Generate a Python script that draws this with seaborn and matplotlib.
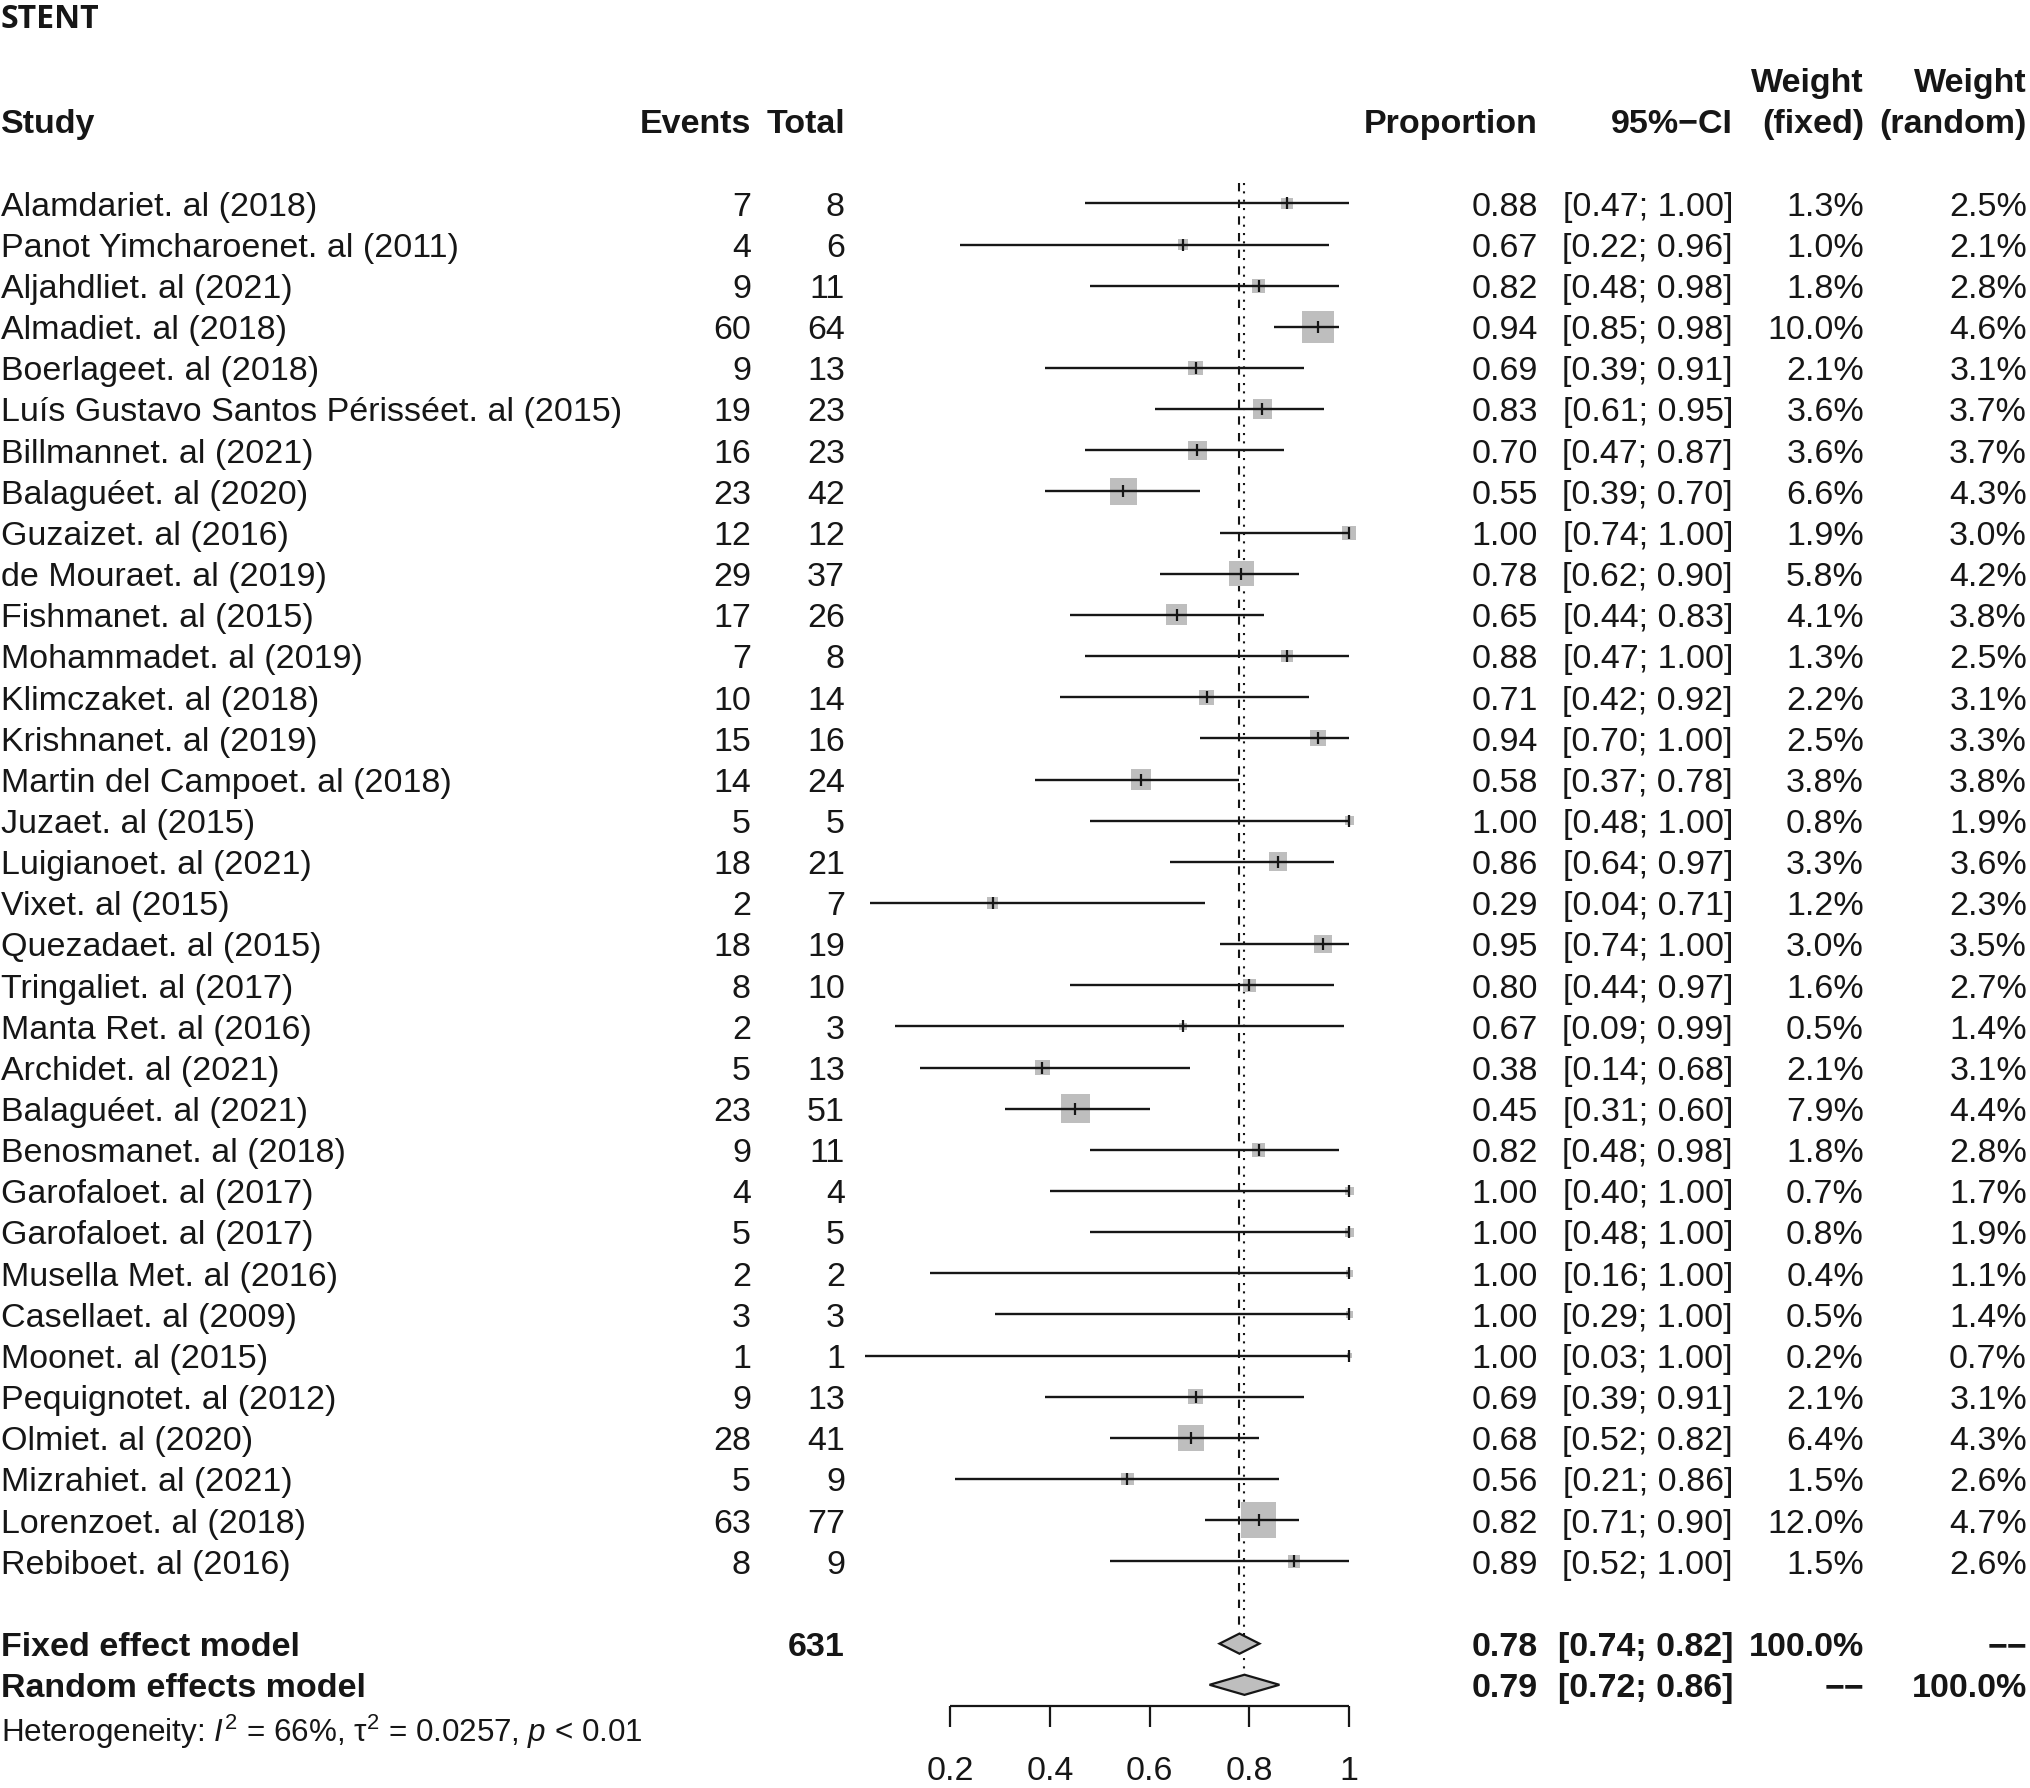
import numpy as np
import matplotlib
matplotlib.use('Agg')
import matplotlib.pyplot as plt
import seaborn as sns
from matplotlib.patches import Polygon

# data
studies = ["Alamdariet. al (2018)", "Panot Yimcharoenet. al (2011)", "Aljahdliet. al (2021)",
           "Almadiet. al (2018)", "Boerlageet. al (2018)", "Luís Gustavo Santos Périsséet. al (2015)",
           "Billmannet. al (2021)", "Balaguéet. al (2020)", "Guzaizet. al (2016)",
           "de Mouraet. al (2019)", "Fishmanet. al (2015)", "Mohammadet. al (2019)",
           "Klimczaket. al (2018)", "Krishnanet. al (2019)", "Martin del Campoet. al (2018)",
           "Juzaet. al (2015)", "Luigianoet. al (2021)", "Vixet. al (2015)",
           "Quezadaet. al (2015)", "Tringaliet. al (2017)", "Manta Ret. al (2016)",
           "Archidet. al (2021)", "Balaguéet. al (2021)", "Benosmanet. al (2018)",
           "Garofaloet. al (2017)", "Garofaloet. al (2017)", "Musella Met. al (2016)",
           "Casellaet. al (2009)", "Moonet. al (2015)", "Pequignotet. al (2012)",
           "Olmiet. al (2020)", "Mizrahiet. al (2021)", "Lorenzoet. al (2018)",
           "Rebiboet. al (2016)"]
events = [7, 4, 9, 60, 9, 19, 16, 23, 12, 29, 17, 7, 10, 15, 14, 5, 18, 2, 18, 8, 2, 5, 23, 9,
          4, 5, 2, 3, 1, 9, 28, 5, 63, 8]
totals = [8, 6, 11, 64, 13, 23, 23, 42, 12, 37, 26, 8, 14, 16, 24, 5, 21, 7, 19, 10, 3, 13, 51, 11,
          4, 5, 2, 3, 1, 13, 41, 9, 77, 9]
prop = [0.88, 0.67, 0.82, 0.94, 0.69, 0.83, 0.70, 0.55, 1.00, 0.78, 0.65, 0.88, 0.71, 0.94, 0.58,
        1.00, 0.86, 0.29, 0.95, 0.80, 0.67, 0.38, 0.45, 0.82, 1.00, 1.00, 1.00, 1.00, 1.00, 0.69,
        0.68, 0.56, 0.82, 0.89]
ci_low = [0.47, 0.22, 0.48, 0.85, 0.39, 0.61, 0.47, 0.39, 0.74, 0.62, 0.44, 0.47, 0.42, 0.70, 0.37,
          0.48, 0.64, 0.04, 0.74, 0.44, 0.09, 0.14, 0.31, 0.48, 0.40, 0.48, 0.16, 0.29, 0.03, 0.39,
          0.52, 0.21, 0.71, 0.52]
ci_high = [1.00, 0.96, 0.98, 0.98, 0.91, 0.95, 0.87, 0.70, 1.00, 0.90, 0.83, 1.00, 0.92, 1.00, 0.78,
           1.00, 0.97, 0.71, 1.00, 0.97, 0.99, 0.68, 0.60, 0.98, 1.00, 1.00, 1.00, 1.00, 1.00, 0.91,
           0.82, 0.86, 0.90, 1.00]
w_fixed = [1.3, 1.0, 1.8, 10.0, 2.1, 3.6, 3.6, 6.6, 1.9, 5.8, 4.1, 1.3, 2.2, 2.5, 3.8, 0.8, 3.3, 1.2,
           3.0, 1.6, 0.5, 2.1, 7.9, 1.8, 0.7, 0.8, 0.4, 0.5, 0.2, 2.1, 6.4, 1.5, 12.0, 1.5]
w_random = [2.5, 2.1, 2.8, 4.6, 3.1, 3.7, 3.7, 4.3, 3.0, 4.2, 3.8, 2.5, 3.1, 3.3, 3.8, 1.9, 3.6, 2.3,
            3.5, 2.7, 1.4, 3.1, 4.4, 2.8, 1.7, 1.9, 1.1, 1.4, 0.7, 3.1, 4.3, 2.6, 4.7, 2.6]

fixed_est, fixed_lo, fixed_hi = 0.78, 0.74, 0.82
random_est, random_lo, random_hi = 0.79, 0.72, 0.86
total_n = 631
x_ticks = [0.2, 0.4, 0.6, 0.8, 1.0]
x_tick_labels = ["0.2", "0.4", "0.6", "0.8", "1"]

sns.set_style("white")
plt.rcParams['font.family'] = ['Liberation Sans', 'DejaVu Sans']
plt.rcParams['mathtext.fontset'] = 'custom'
plt.rcParams['mathtext.rm'] = 'Liberation Sans'
plt.rcParams['mathtext.it'] = 'Liberation Sans:italic'
plt.rcParams['mathtext.bf'] = 'Liberation Sans:bold'

fig = plt.figure(figsize=(20.31, 17.88), dpi=100)
ax = fig.add_axes([0, 0, 1, 1])
ax.set_xlim(-1.7034, 2.3659)
ax.set_ylim(38.508, -4.943)
ax.axis('off')


def px(p):
    # pixel column -> data x
    return 0.2 + (p - 950) / 499.1


fs = 24.5
base = 0.30  # baseline offset below row centre
ink = '#161616'
rows = np.arange(len(studies))
row_fixed = len(studies) + 1
row_random = len(studies) + 2

# squares, area proportional to fixed weight
est = [e / t for e, t in zip(events, totals)]
sq = {'x': est, 'y': rows, 'w': w_fixed}
sns.scatterplot(data=sq, x='x', y='y', size='w', sizes=(55 * min(w_fixed), 55 * max(w_fixed)),
                size_norm=(min(w_fixed), max(w_fixed)), marker='s', color='#bebebe',
                linewidth=0, legend=False, ax=ax, zorder=2)
ax.hlines(rows, ci_low, ci_high, color=ink, lw=1.7, zorder=3)
ax.scatter(est, rows, marker='|', s=64, color=ink, linewidths=1.6, zorder=4)

# reference lines
ax.vlines(fixed_est, -0.5, row_fixed - 0.25, color=ink, lw=1.5, linestyles=(0, (4, 4)), zorder=1)
ax.vlines(random_est, -0.5, row_random - 0.25, color=ink, lw=1.5, linestyles=(0, (1, 3)), zorder=1)

# diamonds
for r, e, lo, hi in [(row_fixed, fixed_est, fixed_lo, fixed_hi),
                     (row_random, random_est, random_lo, random_hi)]:
    ax.add_patch(Polygon([(lo, r), (e, r - 0.245), (hi, r), (e, r + 0.245)], closed=True,
                         facecolor='#bebebe', edgecolor=ink, lw=1.6, zorder=5))

# x axis
ax_y = 36.52
ax.plot([x_ticks[0], x_ticks[-1]], [ax_y, ax_y], color=ink, lw=1.6, solid_capstyle='butt')
ax.vlines(x_ticks, ax_y, 37.03, color=ink, lw=1.6)
for t, lab in zip(x_ticks, x_tick_labels):
    ax.text(t, 38.31, lab, ha='center', va='baseline', fontsize=fs, color=ink)

# column text
col = dict(study=px(1), events=px(751), total=px(845), prop=px(1538), ci=px(1733),
           wf=px(1864), wr=px(2027))
txt = dict(va='baseline', fontsize=fs, color=ink)

ax.text(px(1), -4.26, "STENT", ha='left', va='baseline', fontsize=23, fontweight='bold',
        family=['Open Sans', 'DejaVu Sans'], color=ink)
hdr = dict(txt, fontweight='bold')
ax.text(col['study'], -2 + base, "Study", ha='left', **hdr)
ax.text(col['events'], -2 + base, "Events", ha='right', **hdr)
ax.text(col['total'], -2 + base, "Total", ha='right', **hdr)
ax.text(col['prop'], -2 + base, "Proportion", ha='right', **hdr)
ax.text(col['ci'], -2 + base, "95%−CI", ha='right', **hdr)
ax.text(col['wf'], -3 + base, "Weight", ha='right', **hdr)
ax.text(col['wf'], -2 + base, "(fixed)", ha='right', **hdr)
ax.text(col['wr'], -3 + base, "Weight", ha='right', **hdr)
ax.text(col['wr'], -2 + base, "(random)", ha='right', **hdr)

for i, name in enumerate(studies):
    y = i + base
    ax.text(col['study'], y, name, ha='left', **txt)
    ax.text(col['events'], y, str(events[i]), ha='right', **txt)
    ax.text(col['total'], y, str(totals[i]), ha='right', **txt)
    ax.text(col['prop'], y, f"{prop[i]:.2f}", ha='right', **txt)
    ax.text(col['ci'], y, f"[{ci_low[i]:.2f}; {ci_high[i]:.2f}]", ha='right', **txt)
    ax.text(col['wf'], y, f"{w_fixed[i]:.1f}%", ha='right', **txt)
    ax.text(col['wr'], y, f"{w_random[i]:.1f}%", ha='right', **txt)

y = row_fixed + base
ax.text(col['study'], y, "Fixed effect model", ha='left', **hdr)
ax.text(col['total'], y, str(total_n), ha='right', **hdr)
ax.text(col['prop'], y, f"{fixed_est:.2f}", ha='right', **hdr)
ax.text(col['ci'], y, f"[{fixed_lo:.2f}; {fixed_hi:.2f}]", ha='right', **hdr)
ax.text(col['wf'], y, "100.0%", ha='right', **hdr)
ax.text(col['wr'], y, "−−", ha='right', **hdr)

y = row_random + base
ax.text(col['study'], y, "Random effects model", ha='left', **hdr)
ax.text(col['prop'], y, f"{random_est:.2f}", ha='right', **hdr)
ax.text(col['ci'], y, f"[{random_lo:.2f}; {random_hi:.2f}]", ha='right', **hdr)
ax.text(col['wf'], y, "−−", ha='right', **hdr)
ax.text(col['wr'], y, "100.0%", ha='right', **hdr)

ax.text(col['study'], 37.38, r"Heterogeneity: $I^2$ = 66%, $\mathrm{\tau}^2$ = 0.0257, $p$ < 0.01",
        ha='left', va='baseline', fontsize=22.6, color=ink)

fig.savefig('out.png', dpi=100)
